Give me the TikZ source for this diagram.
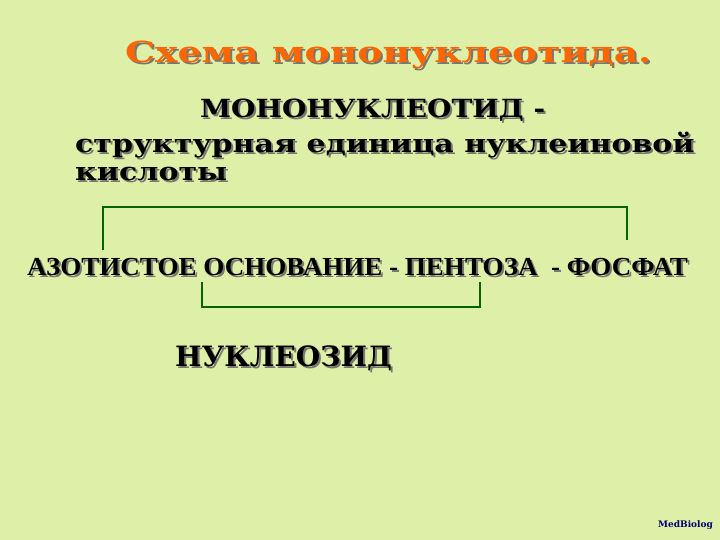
\documentclass[tikz,border=0pt]{standalone}
\usepackage{fontspec}
\setmainfont{DejaVu Serif}
\newfontfamily\condfont{Liberation Serif}
\definecolor{bgcol}{RGB}{222,239,168}
\definecolor{titlecol}{RGB}{255,102,0}
\definecolor{brk}{RGB}{0,100,0}
\definecolor{shad}{RGB}{120,120,110}
\definecolor{logo}{RGB}{0,0,110}
\tikzset{
  txt/.style={inner sep=0pt, anchor=base west, font=\bfseries},
  brack/.style={draw=brk, line width=2.8pt, line cap=butt, line join=miter},
}
\newcommand{\shadowtext}[5]{% name, x, y, style, text
  \node[txt,#4,text=shad] at (#2+2,#3+2) {#5};
  \node[txt,#4] (#1) at (#2,#3) {#5};
}
\begin{document}
\begin{tikzpicture}[x=1pt,y=-1pt]
\useasboundingbox (0,0) rectangle (720,540);
\fill[bgcol] (0,0) rectangle (720,540);
% title
\node[txt,text=shad,font=\bfseries\fontsize{29}{29}\selectfont] at (127,65) {\scalebox{1.3}[1]{Схема мононуклеотида.}};
\node[txt,text=titlecol,font=\bfseries\fontsize{29}{29}\selectfont] (title) at (125,63) {\scalebox{1.3}[1]{Схема мононуклеотида.}};
% definition
\shadowtext{mono}{200}{118}{font=\bfseries\fontsize{25}{25}\selectfont}{\scalebox{1.12}[1]{МОНОНУКЛЕОТИД -}}
\shadowtext{def1}{75}{153}{font=\bfseries\fontsize{25}{25}\selectfont}{\scalebox{1.2}[1]{структурная единица нуклеиновой}}
\shadowtext{def2}{75}{181}{font=\bfseries\fontsize{25}{25}\selectfont}{\scalebox{1.2}[1]{кислоты}}
% components
\shadowtext{comp}{27}{275}{font=\condfont\bfseries\fontsize{26}{26}\selectfont}{\scalebox{1.04}[1]{АЗОТИСТОЕ ОСНОВАНИЕ - ПЕНТОЗА \ - ФОСФАТ}}
\shadowtext{nucl}{175}{366}{font=\bfseries\fontsize{28}{28}\selectfont}{НУКЛЕОЗИД}
% brackets
\coordinate (t1) at (103,250);
\coordinate (t2) at (627,240);
\coordinate (b1) at (202,282);
\coordinate (b2) at (480,282);
\draw[brack] (t1) |- (627,207) -- (t2);
\draw[brack] (b1) |- (480,307) -- (b2);
% logo
\node[txt,text=logo,font=\bfseries\fontsize{9}{9}\selectfont] (logo) at (658,527) {MedBiolog};
\end{tikzpicture}
\end{document}
